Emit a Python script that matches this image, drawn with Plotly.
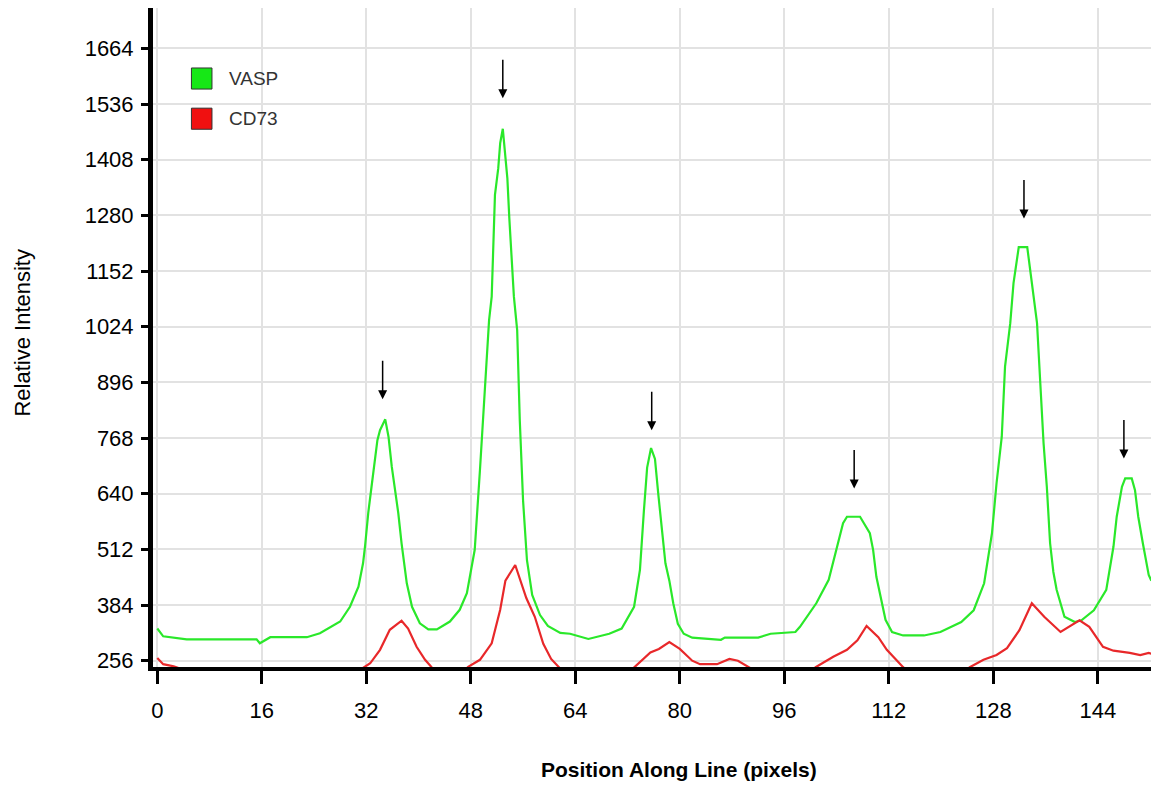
import plotly.graph_objects as go

# ---------------- data ----------------
vasp_pos = [0, 0.9, 4.5, 15.2, 15.7, 17.3, 22.9, 24.9, 28, 29.5, 30.8, 31.5, 31.8, 32.3, 32.8, 33.2,
            33.7, 34.1, 34.9, 35.4, 35.9, 36.4, 36.9, 37.4, 38.2, 39, 40.2, 41.5, 42.8, 44.8, 46.3,
            47.4, 48.1, 48.6, 49.4, 50.2, 50.8, 51.2, 51.4, 51.7, 52.2, 52.5, 52.9, 53.2, 53.6, 53.9,
            54.3, 54.6, 55.1, 55.5, 56, 56.6, 57.4, 58.6, 59.8, 61.7, 63.2, 66, 69.2, 71.1, 73, 73.9,
            74.5, 75.0, 75.6, 76.2, 76.7, 77.2, 77.8, 78.4, 79, 79.7, 80.6, 81.9, 86.3, 86.9, 92, 93.9,
            97.7, 98.4, 100.9, 102.8, 104, 105, 105.6, 107.6, 109.1, 109.6, 110.1, 110.7, 111.5, 112.5,
            114.2, 117.4, 119.9, 123.1, 125, 126.6, 127.8, 128.5, 129.3, 129.8, 130.6, 131.1, 131.9,
            133.2, 133.9, 134.7, 135.2, 135.7, 136.2, 136.7, 137.2, 137.7, 138.9, 140.5, 141.5, 143.4,
            145.3, 146.4, 146.9, 147.7, 148.2, 149.2, 149.7, 150.2, 150.9, 151.8, 152.2]
vasp_int = [330, 312, 305, 305, 296, 310, 310, 319, 346, 380, 426, 480, 518, 596, 656, 710,
            763, 786, 811, 771, 702, 649, 595, 526, 434, 380, 342, 328, 328, 346, 373,
            411, 465, 511, 694, 878, 1039, 1093, 1212, 1327, 1388, 1446, 1479, 1434, 1365, 1273,
            1154, 1093, 1016, 809, 625, 487, 407, 361, 336, 320, 318, 306, 318, 330, 380, 465,
            600, 700, 745, 720, 640, 560, 480, 440, 388, 341, 318, 309, 304, 309, 309, 318,
            322, 334, 388, 442, 511, 572, 587, 587, 549, 511, 449, 403, 350, 322,
            314, 314, 322, 345, 372, 434, 549, 664, 771, 932, 1032, 1124, 1207,
            1207, 1124, 1032, 894, 756, 656, 526, 460, 419, 357, 345, 349, 372,
            419, 518, 587, 656, 675, 675, 648, 587, 526, 453, 440]

cd73_pos = [0, 0.9, 2.5, 4, 6, 30, 31.5, 32.6, 34.1, 35.6, 37.4, 38.4, 39.7, 41, 42, 43, 46.5,
            47.6, 49.4, 51.2, 52.5, 53.3, 54.8, 55.6, 56.5, 57.8, 59.1, 60.3, 61.6, 62.5, 71.5,
            72.9, 75.5, 76.8, 78.4, 80, 81.9, 83.1, 85.7, 87.6, 88.9, 90.8, 92, 99.5, 100.8, 103.5,
            105.6, 107.2, 108.6, 110.4, 111.7, 113.2, 114.2, 115.5, 123, 124.4, 126.5, 128.5, 130.1,
            132, 133.9, 135.8, 138.3, 141.2, 142.7, 144.8, 146.4, 148.9, 150.5, 151.8, 152.2]
cd73_int = [262, 248, 243, 236, 225, 225, 240, 250, 281, 327, 348, 330, 288, 258, 241, 225, 225,
            242, 258, 296, 373, 440, 476, 440, 400, 357, 295, 260, 240, 225, 225,
            239, 275, 283, 299, 283, 256, 248, 248, 260, 256, 239, 225, 225, 241, 265,
            281, 303, 336, 310, 281, 258, 241, 225, 225, 241, 258, 269, 285,
            326, 388, 357, 322, 349, 334, 288, 279, 274, 269, 274, 272]

series_names = ["VASP", "CD73"]
series_colors = ["#2ae82a", "#e8282a"]
legend_fill = ["#16e816", "#f01010"]

arrow_pos = [34.5, 52.9, 75.7, 106.7, 132.7, 148.0]
arrow_int = [857, 1549, 786, 652, 1273, 721]

x_ticks = [0, 16, 32, 48, 64, 80, 96, 112, 128, 144]
y_ticks = [256, 384, 512, 640, 768, 896, 1024, 1152, 1280, 1408, 1536, 1664]

x_title = "Position Along Line (pixels)"
y_title = "Relative Intensity"

FONT = "Liberation Sans, Arial, sans-serif"

# ---------------- figure ----------------
fig = go.Figure()
for name, xs, ys, col in zip(series_names, [vasp_pos, cd73_pos], [vasp_int, cd73_int], series_colors):
    fig.add_trace(go.Scatter(x=xs, y=ys, mode="lines", name=name,
                             line=dict(color=col, width=2.2), showlegend=False,
                             hoverinfo="skip"))

fig.update_layout(
    width=1151, height=786,
    margin=dict(l=153, r=0, t=8, b=119),
    paper_bgcolor="white", plot_bgcolor="white",
    font=dict(family=FONT, color="black", size=22),
    showlegend=False,
)

fig.update_xaxes(range=[-0.66, 152.15], tickmode="array", tickvals=x_ticks,
                 ticktext=[str(v) for v in x_ticks],
                 showgrid=True, gridcolor="#e2e2e2", gridwidth=2,
                 showline=True, linecolor="black", linewidth=4,
                 ticks="outside", ticklen=13, tickwidth=3, tickcolor="black",
                 tickfont=dict(size=22, family=FONT, color="black"),
                 ticklabelstandoff=8, zeroline=False)
fig.update_yaxes(range=[241.5, 1756.8], tickmode="array", tickvals=y_ticks,
                 ticktext=[str(v) for v in y_ticks],
                 showgrid=True, gridcolor="#e2e2e2", gridwidth=2,
                 showline=True, linecolor="black", linewidth=5,
                 ticks="outside", ticklen=7, tickwidth=3, tickcolor="black",
                 tickfont=dict(size=22, family=FONT, color="black"),
                 ticklabelstandoff=3, zeroline=False)

# white legend panel masking the grid in the upper-left corner
fig.add_shape(type="rect", xref="paper", yref="paper",
              x0=0.0188, x1=0.3104, y0=0.615, y1=1.0,
              fillcolor="white", line=dict(width=0), layer="between")

# legend (squares + labels)
sq_y = [(0.877, 0.909), (0.816, 0.848)]
txt_y = [0.8923, 0.8316]
for name, fill, (y0, y1), ty in zip(series_names, legend_fill, sq_y, txt_y):
    fig.add_shape(type="rect", xref="paper", yref="paper",
                  x0=0.0385, x1=0.0591, y0=y0, y1=y1,
                  fillcolor=fill, line=dict(color="#333333", width=1), layer="above")
    fig.add_annotation(xref="paper", yref="paper", x=0.0745, y=ty, text=name,
                       showarrow=False, xanchor="left", yanchor="middle",
                       font=dict(size=19, family=FONT, color="#333333"))

# peak arrows
for ax_, ay_ in zip(arrow_pos, arrow_int):
    fig.add_annotation(x=ax_, y=ay_, xref="x", yref="y", text="",
                       showarrow=True, arrowhead=2, arrowsize=1.2, arrowwidth=1.5,
                       arrowcolor="black", ax=0, ay=-40, standoff=0)

# axis titles
fig.add_annotation(xref="paper", yref="paper", x=0.527, y=-0.156, text="<b>%s</b>" % x_title,
                   showarrow=False, xanchor="center", yanchor="middle",
                   font=dict(size=21, family=FONT, color="black"))
fig.add_annotation(xref="paper", yref="paper", x=-0.1306, y=0.507, text=y_title,
                   showarrow=False, xanchor="center", yanchor="middle", textangle=-90,
                   font=dict(size=22, family=FONT, color="black"))

fig.write_html("out.html", config={"displayModeBar": False},
               post_script="document.body.style.margin='0px';")
